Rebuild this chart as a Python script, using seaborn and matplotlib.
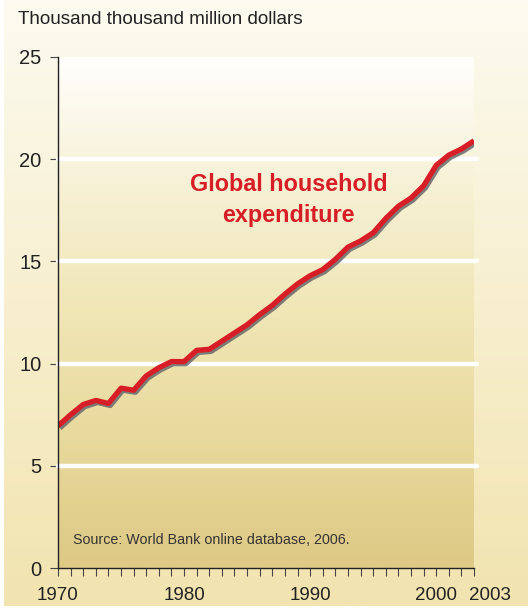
import numpy as np
import pandas as pd
import seaborn as sns
import matplotlib.pyplot as plt
import matplotlib.patheffects as pe
from matplotlib.colors import LinearSegmentedColormap
from matplotlib.transforms import ScaledTranslation

# Values (thousand thousand million dollars)
years = list(range(1970, 2004))
expenditure = [6.95, 7.5, 8.0, 8.2, 8.05, 8.8, 8.7, 9.4, 9.8, 10.1,
               10.1, 10.65, 10.7, 11.1, 11.5, 11.9, 12.4, 12.85, 13.4, 13.9,
               14.3, 14.6, 15.1, 15.7, 16.0, 16.4, 17.1, 17.7, 18.1, 18.7,
               19.7, 20.2, 20.5, 20.9]
major_years = [1970, 1980, 1990, 2000, 2003]
y_ticks = [0, 5, 10, 15, 20, 25]

df = pd.DataFrame({"Year": years, "Expenditure": expenditure})

sns.set_style("white")
plt.rcParams["font.family"] = ["Liberation Sans", "DejaVu Sans"]

fig = plt.figure(figsize=(5.28, 6.11), dpi=100)
fig.patch.set_facecolor("white")

# figure background gradient
bg = fig.add_axes([4 / 528, 5 / 611, 1, 1], zorder=-10)
bg_cmap = LinearSegmentedColormap.from_list("bg", ["#f2e4b0", "#f7efcf", "#fdfbf1"])
bg.imshow(np.linspace(0, 1, 256).reshape(-1, 1), cmap=bg_cmap, aspect="auto",
          origin="lower", extent=[0, 1, 0, 1])
bg.set_axis_off()

ax = fig.add_axes([58 / 528, 1 - 568 / 611, 416 / 528, 511 / 611])
ax.set_xlim(1970, 2003)
ax.set_ylim(0, 25)
ax.patch.set_visible(False)

# plot-area gradient
pa_cmap = LinearSegmentedColormap.from_list(
    "pa", ["#dec985", "#e8d99c", "#f0e6b6", "#f7f1d6", "#fffefb"])
ax.imshow(np.linspace(0, 1, 256).reshape(-1, 1), cmap=pa_cmap, aspect="auto",
          origin="lower", extent=[1970, 2003, 0, 25], zorder=0)

for yv in [5, 10, 15, 20]:
    ax.axhline(yv, xmin=0, xmax=1.008, color="white", lw=3.2, zorder=1, clip_on=False)

sns.lineplot(data=df, x="Year", y="Expenditure", ax=ax, color="#d71d25", lw=3.8,
             zorder=3, solid_capstyle="butt",
             path_effects=[pe.SimpleLineShadow(offset=(1.3, -1.5), shadow_color="#707070", alpha=0.9),
                           pe.Normal()])

ax.set_xlim(1970, 2003)
ax.set_ylim(0, 25)
ax.set_xlabel("")
ax.set_ylabel("")

for s in ["top", "right"]:
    ax.spines[s].set_visible(False)
for s in ["left", "bottom"]:
    ax.spines[s].set_color("#222222")
    ax.spines[s].set_linewidth(1.0)
    ax.spines[s].set_zorder(4)

ax.set_yticks(y_ticks)
ax.set_xticks(major_years)
ax.set_xticks(years, minor=True)
ax.tick_params(axis="y", direction="out", length=6, width=0.8, color="#444444",
               labelsize=14.5, labelcolor="#222222", pad=6, left=True)
ax.tick_params(axis="x", which="both", direction="out", length=6, width=0.8,
               color="#444444", bottom=True)
ax.tick_params(axis="x", which="major", labelsize=13.5, labelcolor="#222222", pad=8)

lbl = ax.get_xticklabels()[-1]
lbl.set_transform(lbl.get_transform() + ScaledTranslation(16 / 100, 0, fig.dpi_scale_trans))

ax.text(1988.3, 18.0, "Global household\nexpenditure", color="#d71d25",
        fontsize=16.8, fontweight="bold", ha="center", va="center",
        linespacing=1.45, zorder=5)

ax.text(1971.2, 1.35, "Source: World Bank online database, 2006.", fontsize=10.3,
        color="#333333", ha="left", va="center", zorder=5)

fig.text(18 / 528, 1 - 20 / 611, "Thousand thousand million dollars", fontsize=13.6,
         color="#222222", ha="left", va="center")

fig.savefig("out.png", dpi=100)
